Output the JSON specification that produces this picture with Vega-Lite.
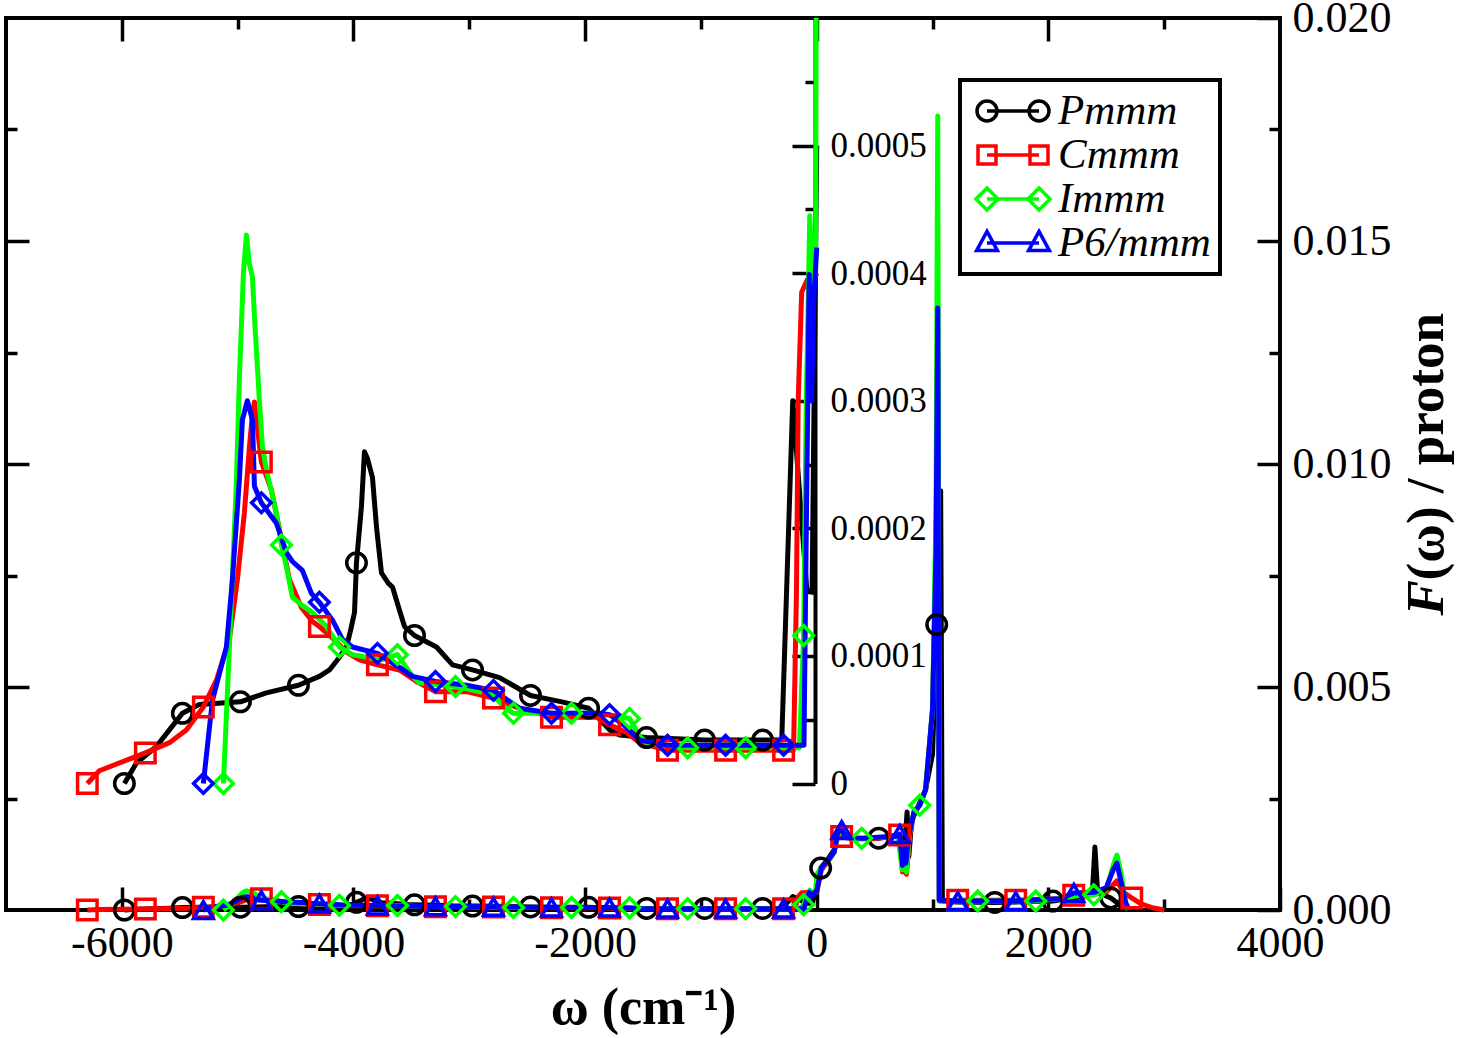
{
  "$schema": "https://vega.github.io/schema/vega-lite/v6.json",
  "width": 1274,
  "height": 892,
  "autosize": {"type": "none"},
  "padding": {"left": 6, "top": 18, "right": 177, "bottom": 128},
  "background": "white",
  "config": {
    "view": {"stroke": "black", "strokeWidth": 4},
    "axis": {
      "labelFont": "Liberation Serif",
      "titleFont": "Liberation Serif",
      "labelColor": "black",
      "titleColor": "black",
      "tickColor": "black",
      "tickWidth": 3.5,
      "domain": false,
      "grid": false,
      "labelFlush": false,
      "labelOverlap": false,
      "labelBound": false
    }
  },
  "datasets": {
    "curves": [
      {"s":"Pmmm","w":-5978,"F":0},{"s":"Pmmm","w":-5874,"F":0.000016},{"s":"Pmmm","w":-5702,"F":0.000029},{"s":"Pmmm","w":-5589,"F":0.000042},{"s":"Pmmm","w":-5477,"F":0.000055},{"s":"Pmmm","w":-5330,"F":0.000062},{"s":"Pmmm","w":-4976,"F":0.000064},{"s":"Pmmm","w":-4752,"F":0.000071},{"s":"Pmmm","w":-4475,"F":0.000077},{"s":"Pmmm","w":-4294,"F":0.000084},{"s":"Pmmm","w":-4207,"F":0.000089},{"s":"Pmmm","w":-4121,"F":0.000099},{"s":"Pmmm","w":-4060,"F":0.000107},{"s":"Pmmm","w":-4025,"F":0.00012},{"s":"Pmmm","w":-3991,"F":0.000134},{"s":"Pmmm","w":-3974,"F":0.000173},{"s":"Pmmm","w":-3931,"F":0.000217},{"s":"Pmmm","w":-3905,"F":0.00026},{"s":"Pmmm","w":-3880,"F":0.000255},{"s":"Pmmm","w":-3836,"F":0.00024},{"s":"Pmmm","w":-3800,"F":0.0002},{"s":"Pmmm","w":-3758,"F":0.000165},{"s":"Pmmm","w":-3700,"F":0.000157},{"s":"Pmmm","w":-3663,"F":0.000154},{"s":"Pmmm","w":-3600,"F":0.000135},{"s":"Pmmm","w":-3559,"F":0.000123},{"s":"Pmmm","w":-3473,"F":0.000116},{"s":"Pmmm","w":-3283,"F":0.000107},{"s":"Pmmm","w":-3144,"F":0.000093},{"s":"Pmmm","w":-2972,"F":0.000089},{"s":"Pmmm","w":-2739,"F":0.000083},{"s":"Pmmm","w":-2471,"F":0.000069},{"s":"Pmmm","w":-2200,"F":0.000064},{"s":"Pmmm","w":-1970,"F":0.000059},{"s":"Pmmm","w":-1870,"F":0.00005},{"s":"Pmmm","w":-1788,"F":0.000042},{"s":"Pmmm","w":-1702,"F":0.000038},{"s":"Pmmm","w":-1469,"F":0.000036},{"s":"Pmmm","w":-968,"F":0.000034},{"s":"Pmmm","w":-467,"F":0.000034},{"s":"Pmmm","w":-302,"F":0.000034},{"s":"Pmmm","w":-207,"F":0.0003},{"s":"Pmmm","w":-150,"F":0.00023},{"s":"Pmmm","w":-86,"F":0.000152},{"s":"Pmmm","w":-40,"F":0.00015},{"s":"Pmmm","w":0,"F":0.0005},{"s":"Pmmm","w":34,"F":0.00094},{"s":"Pmmm","w":100,"F":0.00115},{"s":"Pmmm","w":150,"F":0.00135},{"s":"Pmmm","w":185,"F":0.00175},{"s":"Pmmm","w":230,"F":0.00172},{"s":"Pmmm","w":300,"F":0.0016},{"s":"Pmmm","w":535,"F":0.00161},{"s":"Pmmm","w":720,"F":0.00168},{"s":"Pmmm","w":745,"F":0.001},{"s":"Pmmm","w":765,"F":0.0016},{"s":"Pmmm","w":780,"F":0.0022},{"s":"Pmmm","w":795,"F":0.0012},{"s":"Pmmm","w":820,"F":0.002},{"s":"Pmmm","w":880,"F":0.00235},{"s":"Pmmm","w":940,"F":0.0027},{"s":"Pmmm","w":1000,"F":0.0035},{"s":"Pmmm","w":1036,"F":0.0064},{"s":"Pmmm","w":1070,"F":0.0094},{"s":"Pmmm","w":1085,"F":0.0002},{"s":"Pmmm","w":1200,"F":0.00018},{"s":"Pmmm","w":1537,"F":0.00017},{"s":"Pmmm","w":2038,"F":0.0002},{"s":"Pmmm","w":2300,"F":0.0003},{"s":"Pmmm","w":2380,"F":0.0004},{"s":"Pmmm","w":2402,"F":0.00141},{"s":"Pmmm","w":2425,"F":0.0004},{"s":"Pmmm","w":2539,"F":0.00027},{"s":"Pmmm","w":2600,"F":0.00015},{"s":"Pmmm","w":2650,"F":0},

      {"s":"Cmmm","w":-6298,"F":0},{"s":"Cmmm","w":-6194,"F":0.00001},{"s":"Cmmm","w":-5797,"F":0.000024},{"s":"Cmmm","w":-5589,"F":0.000032},{"s":"Cmmm","w":-5443,"F":0.000042},{"s":"Cmmm","w":-5296,"F":0.00006},{"s":"Cmmm","w":-5183,"F":0.000081},{"s":"Cmmm","w":-5071,"F":0.000113},{"s":"Cmmm","w":-5002,"F":0.00016},{"s":"Cmmm","w":-4942,"F":0.000212},{"s":"Cmmm","w":-4898,"F":0.000264},{"s":"Cmmm","w":-4872,"F":0.00029},{"s":"Cmmm","w":-4855,"F":0.000299},{"s":"Cmmm","w":-4795,"F":0.000252},{"s":"Cmmm","w":-4708,"F":0.00023},{"s":"Cmmm","w":-4639,"F":0.000199},{"s":"Cmmm","w":-4553,"F":0.00016},{"s":"Cmmm","w":-4449,"F":0.000138},{"s":"Cmmm","w":-4354,"F":0.000127},{"s":"Cmmm","w":-4294,"F":0.000123},{"s":"Cmmm","w":-4181,"F":0.000114},{"s":"Cmmm","w":-4060,"F":0.000103},{"s":"Cmmm","w":-3948,"F":0.000097},{"s":"Cmmm","w":-3793,"F":0.000093},{"s":"Cmmm","w":-3603,"F":0.000089},{"s":"Cmmm","w":-3456,"F":0.00008},{"s":"Cmmm","w":-3292,"F":0.000072},{"s":"Cmmm","w":-3024,"F":0.000072},{"s":"Cmmm","w":-2791,"F":0.000067},{"s":"Cmmm","w":-2600,"F":0.00006},{"s":"Cmmm","w":-2290,"F":0.000052},{"s":"Cmmm","w":-1900,"F":0.000052},{"s":"Cmmm","w":-1789,"F":0.000046},{"s":"Cmmm","w":-1641,"F":0.00004},{"s":"Cmmm","w":-1529,"F":0.000032},{"s":"Cmmm","w":-1288,"F":0.000026},{"s":"Cmmm","w":-787,"F":0.000026},{"s":"Cmmm","w":-286,"F":0.000026},{"s":"Cmmm","w":-200,"F":0.000026},{"s":"Cmmm","w":-175,"F":0.00015},{"s":"Cmmm","w":-160,"F":0.0003},{"s":"Cmmm","w":-130,"F":0.000385},{"s":"Cmmm","w":-80,"F":0.000395},{"s":"Cmmm","w":-40,"F":0.00039},{"s":"Cmmm","w":0,"F":0.0004},{"s":"Cmmm","w":40,"F":0.0009},{"s":"Cmmm","w":100,"F":0.0011},{"s":"Cmmm","w":150,"F":0.0013},{"s":"Cmmm","w":185,"F":0.0017},{"s":"Cmmm","w":215,"F":0.00165},{"s":"Cmmm","w":300,"F":0.0016},{"s":"Cmmm","w":500,"F":0.0016},{"s":"Cmmm","w":716,"F":0.00168},{"s":"Cmmm","w":740,"F":0.00085},{"s":"Cmmm","w":760,"F":0.0015},{"s":"Cmmm","w":775,"F":0.0008},{"s":"Cmmm","w":800,"F":0.0016},{"s":"Cmmm","w":840,"F":0.0022},{"s":"Cmmm","w":890,"F":0.00235},{"s":"Cmmm","w":940,"F":0.0027},{"s":"Cmmm","w":1000,"F":0.0045},{"s":"Cmmm","w":1030,"F":0.008},{"s":"Cmmm","w":1045,"F":0.013},{"s":"Cmmm","w":1058,"F":0.0002},{"s":"Cmmm","w":1217,"F":0.00022},{"s":"Cmmm","w":1718,"F":0.00022},{"s":"Cmmm","w":2100,"F":0.00025},{"s":"Cmmm","w":2219,"F":0.00033},{"s":"Cmmm","w":2400,"F":0.00035},{"s":"Cmmm","w":2500,"F":0.0004},{"s":"Cmmm","w":2590,"F":0.00065},{"s":"Cmmm","w":2650,"F":0.0004},{"s":"Cmmm","w":2720,"F":0.00027},{"s":"Cmmm","w":2800,"F":0.00014},{"s":"Cmmm","w":2900,"F":0.00005},{"s":"Cmmm","w":3000,"F":0},

      {"s":"Immm","w":-5123,"F":0},{"s":"Immm","w":-5071,"F":0.000107},{"s":"Immm","w":-5010,"F":0.000238},{"s":"Immm","w":-4985,"F":0.000317},{"s":"Immm","w":-4950,"F":0.0004},{"s":"Immm","w":-4924,"F":0.00043},{"s":"Immm","w":-4900,"F":0.000408},{"s":"Immm","w":-4872,"F":0.000397},{"s":"Immm","w":-4855,"F":0.000366},{"s":"Immm","w":-4812,"F":0.0003},{"s":"Immm","w":-4786,"F":0.000264},{"s":"Immm","w":-4752,"F":0.000246},{"s":"Immm","w":-4665,"F":0.000212},{"s":"Immm","w":-4622,"F":0.000187},{"s":"Immm","w":-4579,"F":0.00017},{"s":"Immm","w":-4527,"F":0.000146},{"s":"Immm","w":-4449,"F":0.00014},{"s":"Immm","w":-4354,"F":0.000134},{"s":"Immm","w":-4233,"F":0.000123},{"s":"Immm","w":-4121,"F":0.000107},{"s":"Immm","w":-4009,"F":0.000101},{"s":"Immm","w":-3888,"F":0.000099},{"s":"Immm","w":-3749,"F":0.000097},{"s":"Immm","w":-3620,"F":0.000101},{"s":"Immm","w":-3490,"F":0.000084},{"s":"Immm","w":-3430,"F":0.000079},{"s":"Immm","w":-3119,"F":0.000076},{"s":"Immm","w":-2800,"F":0.00007},{"s":"Immm","w":-2700,"F":0.00006},{"s":"Immm","w":-2618,"F":0.000055},{"s":"Immm","w":-2117,"F":0.000055},{"s":"Immm","w":-1900,"F":0.000055},{"s":"Immm","w":-1616,"F":0.000051},{"s":"Immm","w":-1529,"F":0.000037},{"s":"Immm","w":-1469,"F":0.000032},{"s":"Immm","w":-1115,"F":0.000028},{"s":"Immm","w":-614,"F":0.000028},{"s":"Immm","w":-150,"F":0.000028},{"s":"Immm","w":-113,"F":0.000116},{"s":"Immm","w":-90,"F":0.0003},{"s":"Immm","w":-60,"F":0.000445},{"s":"Immm","w":-35,"F":0.00039},{"s":"Immm","w":-10,"F":0.0004},{"s":"Immm","w":0,"F":0.0008},{"s":"Immm","w":40,"F":0.00095},{"s":"Immm","w":100,"F":0.0011},{"s":"Immm","w":150,"F":0.0013},{"s":"Immm","w":185,"F":0.00175},{"s":"Immm","w":220,"F":0.00172},{"s":"Immm","w":300,"F":0.0016},{"s":"Immm","w":388,"F":0.00161},{"s":"Immm","w":700,"F":0.00165},{"s":"Immm","w":740,"F":0.0009},{"s":"Immm","w":760,"F":0.0015},{"s":"Immm","w":775,"F":0.00085},{"s":"Immm","w":800,"F":0.0017},{"s":"Immm","w":840,"F":0.0022},{"s":"Immm","w":889,"F":0.00235},{"s":"Immm","w":940,"F":0.0027},{"s":"Immm","w":1000,"F":0.0045},{"s":"Immm","w":1030,"F":0.009},{"s":"Immm","w":1045,"F":0.0178},{"s":"Immm","w":1058,"F":0.0002},{"s":"Immm","w":1390,"F":0.0002},{"s":"Immm","w":1891,"F":0.0002},{"s":"Immm","w":2100,"F":0.00025},{"s":"Immm","w":2250,"F":0.00032},{"s":"Immm","w":2392,"F":0.00034},{"s":"Immm","w":2500,"F":0.00045},{"s":"Immm","w":2560,"F":0.001},{"s":"Immm","w":2592,"F":0.00123},{"s":"Immm","w":2630,"F":0.0008},{"s":"Immm","w":2660,"F":0.0002},{"s":"Immm","w":2690,"F":0},

      {"s":"P6/mmm","w":-5296,"F":0},{"s":"P6/mmm","w":-5218,"F":0.000065},{"s":"P6/mmm","w":-5097,"F":0.000107},{"s":"P6/mmm","w":-5045,"F":0.00016},{"s":"P6/mmm","w":-4985,"F":0.000238},{"s":"P6/mmm","w":-4959,"F":0.000285},{"s":"P6/mmm","w":-4916,"F":0.0003},{"s":"P6/mmm","w":-4872,"F":0.000285},{"s":"P6/mmm","w":-4855,"F":0.000233},{"s":"P6/mmm","w":-4795,"F":0.00022},{"s":"P6/mmm","w":-4665,"F":0.000204},{"s":"P6/mmm","w":-4579,"F":0.000181},{"s":"P6/mmm","w":-4527,"F":0.000174},{"s":"P6/mmm","w":-4441,"F":0.000167},{"s":"P6/mmm","w":-4363,"F":0.000149},{"s":"P6/mmm","w":-4294,"F":0.000142},{"s":"P6/mmm","w":-4181,"F":0.000128},{"s":"P6/mmm","w":-4095,"F":0.000113},{"s":"P6/mmm","w":-4009,"F":0.000107},{"s":"P6/mmm","w":-3793,"F":0.000102},{"s":"P6/mmm","w":-3603,"F":0.000091},{"s":"P6/mmm","w":-3490,"F":0.000084},{"s":"P6/mmm","w":-3292,"F":0.00008},{"s":"P6/mmm","w":-3024,"F":0.000077},{"s":"P6/mmm","w":-2791,"F":0.000073},{"s":"P6/mmm","w":-2566,"F":0.000059},{"s":"P6/mmm","w":-2290,"F":0.000055},{"s":"P6/mmm","w":-1875,"F":0.000055},{"s":"P6/mmm","w":-1789,"F":0.000054},{"s":"P6/mmm","w":-1641,"F":0.000044},{"s":"P6/mmm","w":-1529,"F":0.000034},{"s":"P6/mmm","w":-1288,"F":0.00003},{"s":"P6/mmm","w":-787,"F":0.00003},{"s":"P6/mmm","w":-286,"F":0.00003},{"s":"P6/mmm","w":-110,"F":0.00003},{"s":"P6/mmm","w":-90,"F":0.0002},{"s":"P6/mmm","w":-65,"F":0.000399},{"s":"P6/mmm","w":-45,"F":0.0003},{"s":"P6/mmm","w":-25,"F":0.00038},{"s":"P6/mmm","w":0,"F":0.00042},{"s":"P6/mmm","w":40,"F":0.00095},{"s":"P6/mmm","w":100,"F":0.00112},{"s":"P6/mmm","w":150,"F":0.0013},{"s":"P6/mmm","w":185,"F":0.00178},{"s":"P6/mmm","w":216,"F":0.00179},{"s":"P6/mmm","w":250,"F":0.00162},{"s":"P6/mmm","w":400,"F":0.00161},{"s":"P6/mmm","w":700,"F":0.00166},{"s":"P6/mmm","w":717,"F":0.0017},{"s":"P6/mmm","w":740,"F":0.001},{"s":"P6/mmm","w":755,"F":0.0015},{"s":"P6/mmm","w":770,"F":0.00105},{"s":"P6/mmm","w":790,"F":0.0016},{"s":"P6/mmm","w":840,"F":0.0022},{"s":"P6/mmm","w":890,"F":0.00235},{"s":"P6/mmm","w":940,"F":0.0027},{"s":"P6/mmm","w":1000,"F":0.0045},{"s":"P6/mmm","w":1030,"F":0.008},{"s":"P6/mmm","w":1045,"F":0.0135},{"s":"P6/mmm","w":1058,"F":0.00022},{"s":"P6/mmm","w":1218,"F":0.0002},{"s":"P6/mmm","w":1719,"F":0.0002},{"s":"P6/mmm","w":2100,"F":0.00025},{"s":"P6/mmm","w":2220,"F":0.00038},{"s":"P6/mmm","w":2400,"F":0.0004},{"s":"P6/mmm","w":2500,"F":0.0005},{"s":"P6/mmm","w":2560,"F":0.0009},{"s":"P6/mmm","w":2592,"F":0.00105},{"s":"P6/mmm","w":2630,"F":0.0006},{"s":"P6/mmm","w":2670,"F":0.00015},{"s":"P6/mmm","w":2700,"F":0}
    ],
    "symbols": [
      {"s":"Pmmm","w":-5978,"F":0},{"s":"Pmmm","w":-5477,"F":0.000055},{"s":"Pmmm","w":-4976,"F":0.000064},{"s":"Pmmm","w":-4475,"F":0.000077},{"s":"Pmmm","w":-3974,"F":0.000173},{"s":"Pmmm","w":-3473,"F":0.000116},{"s":"Pmmm","w":-2972,"F":0.000089},{"s":"Pmmm","w":-2471,"F":0.000069},{"s":"Pmmm","w":-1970,"F":0.000059},{"s":"Pmmm","w":-1469,"F":0.000036},{"s":"Pmmm","w":-968,"F":0.000034},{"s":"Pmmm","w":-467,"F":0.000034},{"s":"Pmmm","w":34,"F":0.00094},{"s":"Pmmm","w":535,"F":0.00161},{"s":"Pmmm","w":1036,"F":0.0064},{"s":"Pmmm","w":1537,"F":0.00017},{"s":"Pmmm","w":2038,"F":0.0002},{"s":"Pmmm","w":2539,"F":0.00027},
      {"s":"Cmmm","w":-6298,"F":0},{"s":"Cmmm","w":-5797,"F":0.000024},{"s":"Cmmm","w":-5296,"F":0.00006},{"s":"Cmmm","w":-4795,"F":0.000252},{"s":"Cmmm","w":-4294,"F":0.000123},{"s":"Cmmm","w":-3793,"F":0.000093},{"s":"Cmmm","w":-3292,"F":0.000072},{"s":"Cmmm","w":-2791,"F":0.000067},{"s":"Cmmm","w":-2290,"F":0.000052},{"s":"Cmmm","w":-1789,"F":0.000046},{"s":"Cmmm","w":-1288,"F":0.000026},{"s":"Cmmm","w":-787,"F":0.000026},{"s":"Cmmm","w":-286,"F":0.000026},{"s":"Cmmm","w":215,"F":0.00165},{"s":"Cmmm","w":716,"F":0.00168},{"s":"Cmmm","w":1217,"F":0.00022},{"s":"Cmmm","w":1718,"F":0.00022},{"s":"Cmmm","w":2219,"F":0.00033},{"s":"Cmmm","w":2720,"F":0.00027},
      {"s":"Immm","w":-5123,"F":0},{"s":"Immm","w":-4622,"F":0.000187},{"s":"Immm","w":-4121,"F":0.000107},{"s":"Immm","w":-3620,"F":0.000101},{"s":"Immm","w":-3119,"F":0.000076},{"s":"Immm","w":-2618,"F":0.000055},{"s":"Immm","w":-2117,"F":0.000055},{"s":"Immm","w":-1616,"F":0.000051},{"s":"Immm","w":-1115,"F":0.000028},{"s":"Immm","w":-614,"F":0.000028},{"s":"Immm","w":-113,"F":0.000116},{"s":"Immm","w":388,"F":0.00161},{"s":"Immm","w":889,"F":0.00235},{"s":"Immm","w":1390,"F":0.0002},{"s":"Immm","w":1891,"F":0.0002},{"s":"Immm","w":2392,"F":0.00034},
      {"s":"P6/mmm","w":-5296,"F":0},{"s":"P6/mmm","w":-4795,"F":0.00022},{"s":"P6/mmm","w":-4294,"F":0.000142},{"s":"P6/mmm","w":-3793,"F":0.000102},{"s":"P6/mmm","w":-3292,"F":0.00008},{"s":"P6/mmm","w":-2791,"F":0.000073},{"s":"P6/mmm","w":-2290,"F":0.000055},{"s":"P6/mmm","w":-1789,"F":0.000054},{"s":"P6/mmm","w":-1288,"F":0.00003},{"s":"P6/mmm","w":-787,"F":0.00003},{"s":"P6/mmm","w":-286,"F":0.00003},{"s":"P6/mmm","w":216,"F":0.00179},{"s":"P6/mmm","w":717,"F":0.0017},{"s":"P6/mmm","w":1218,"F":0.0002},{"s":"P6/mmm","w":1719,"F":0.0002},{"s":"P6/mmm","w":2220,"F":0.00038}
    ]
  },
  "layer": [
    {
      "data": {"name": "curves"},
      "mark": {"type": "line", "strokeWidth": 5, "strokeJoin": "round"},
      "encoding": {
        "x": {
          "field": "w", "type": "quantitative",
          "scale": {"domain": [-7000, 4000], "nice": false, "zero": false},
          "axis": {
            "orient": "bottom",
            "values": [-6000, -5000, -4000, -3000, -2000, -1000, 0, 1000, 2000, 3000, 4000],
            "tickSize": {"condition": {"test": "datum.value % 2000 === 0", "value": -23}, "value": -11},
            "labelExpr": "datum.value % 2000 === 0 ? (datum.value < 0 ? '-' + abs(datum.value) : '' + datum.value) : ''",
            "labelFontSize": 44,
            "labelPadding": 34,
            "title": "ω (cm⁻¹)",
            "titleFontSize": 52,
            "titleFontWeight": "bold",
            "titleBaseline": "alphabetic",
            "titleY": 113
          }
        },
        "y": {
          "field": "F", "type": "quantitative",
          "scale": {"domain": [0, 0.02], "nice": false, "zero": false},
          "axis": {
            "orient": "right",
            "values": [0, 0.0025, 0.005, 0.0075, 0.01, 0.0125, 0.015, 0.0175, 0.02],
            "tickSize": {"condition": {"test": "round(datum.value * 10000) % 50 === 0", "value": -23}, "value": -11},
            "labelExpr": "round(datum.value * 10000) % 50 === 0 ? format(datum.value, '.3f') : ''",
            "labelFontSize": 44,
            "labelPadding": 35,
            "labelAlign": "left",
            "title": "(ω) / proton",
            "titleFontSize": 53,
            "titleFontWeight": "bold",
            "titleAngle": 270,
            "titleAlign": "left",
            "titleBaseline": "alphabetic",
            "titleX": 162,
            "titleY": 562
          }
        },
        "color": {
          "field": "s", "type": "nominal",
          "scale": {"domain": ["Pmmm", "Cmmm", "Immm", "P6/mmm"], "range": ["#000000", "#ff0000", "#00ff00", "#0000ff"]},
          "legend": {
            "orient": "none",
            "legendX": 954,
            "legendY": 62,
            "title": null,
            "symbolSize": 1600,
            "symbolStrokeWidth": 3.5,
            "symbolOffset": 22,
            "labelFont": "Liberation Serif",
            "labelFontSize": 43,
            "labelFontStyle": "italic",
            "labelColor": "black",
            "labelOffset": 23,
            "rowPadding": 0,
            "padding": 9,
            "strokeColor": "black",
            "fillColor": "white",
            "encode": {
              "legend": {"update": {"strokeWidth": {"value": 4}}},
              "symbols": {
                "update": {
                  "shape": {"signal": "datum.value === 'Pmmm' ? 'M-1.3,0L1.3,0M-1.8,0A0.5,0.5,0,1,1,-0.8,0A0.5,0.5,0,1,1,-1.8,0ZM0.8,0A0.5,0.5,0,1,1,1.8,0A0.5,0.5,0,1,1,0.8,0Z' : datum.value === 'Cmmm' ? 'M-1.3,0L1.3,0M-1.75,-0.45L-0.85,-0.45L-0.85,0.45L-1.75,0.45ZM0.85,-0.45L1.75,-0.45L1.75,0.45L0.85,0.45Z' : datum.value === 'Immm' ? 'M-1.3,0L1.3,0M-1.3,-0.55L-0.75,0L-1.3,0.55L-1.85,0ZM1.3,-0.55L1.85,0L1.3,0.55L0.75,0Z' : 'M-1.3,0L1.3,0M-1.3,-0.58L-0.78,0.38L-1.82,0.38ZM1.3,-0.58L1.82,0.38L0.78,0.38Z'"},
                  "fill": {"value": "transparent"},
                  "strokeWidth": {"value": 3.5}
                }
              }
            }
          }
        }
      }
    },
    {
      "data": {"name": "symbols"},
      "mark": {"type": "point", "filled": false, "size": 380, "strokeWidth": 3.5, "opacity": 1},
      "encoding": {
        "x": {
          "field": "w", "type": "quantitative",
          "scale": {"domain": [-7000, 4000], "nice": false, "zero": false},
          "axis": {
            "orient": "top",
            "values": [-6000, -5000, -4000, -3000, -2000, -1000, 0, 1000, 2000, 3000],
            "tickSize": {"condition": {"test": "datum.value % 2000 === 0", "value": -23}, "value": -11},
            "labels": false,
            "title": null
          }
        },
        "y": {
          "field": "F", "type": "quantitative",
          "scale": {"domain": [0, 0.02], "nice": false, "zero": false},
          "axis": {
            "orient": "left",
            "values": [0.0025, 0.005, 0.0075, 0.01, 0.0125, 0.015, 0.0175],
            "tickSize": {"condition": {"test": "round(datum.value * 10000) % 50 === 0", "value": -23}, "value": -11},
            "labels": false,
            "title": null
          }
        },
        "color": {
          "field": "s", "type": "nominal",
          "scale": {"domain": ["Pmmm", "Cmmm", "Immm", "P6/mmm"], "range": ["#000000", "#ff0000", "#00ff00", "#0000ff"]},
          "legend": null
        },
        "shape": {
          "field": "s", "type": "nominal",
          "scale": {"domain": ["Pmmm", "Cmmm", "Immm", "P6/mmm"], "range": ["circle", "square", "diamond", "triangle-up"]},
          "legend": null
        }
      }
    },
    {
      "data": {"name": "curves"},
      "transform": [{"filter": "datum.w <= 0"}],
      "mark": {"type": "line", "strokeWidth": 5, "strokeJoin": "round", "clip": true},
      "encoding": {
        "x": {
          "field": "w", "type": "quantitative",
          "scale": {"domain": [-7000, 4000], "nice": false, "zero": false},
          "axis": null
        },
        "y": {
          "field": "F", "type": "quantitative",
          "scale": {"domain": [0, 0.0006], "range": [765.5, 0], "nice": false, "zero": false},
          "axis": {
            "orient": "right",
            "offset": -465,
            "domain": true,
            "domainColor": "black",
            "domainWidth": 4,
            "values": [0, 0.00005, 0.0001, 0.00015, 0.0002, 0.00025, 0.0003, 0.00035, 0.0004, 0.00045, 0.0005, 0.00055],
            "tickSize": {"condition": {"test": "round(datum.value * 100000) % 10 === 0", "value": -23}, "value": -10},
            "labelExpr": "round(datum.value * 100000) % 10 === 0 ? (datum.value === 0 ? '0' : format(datum.value, '.4f')) : ''",
            "labelFontSize": 35,
            "labelPadding": 38,
            "labelAlign": "left",
            "title": null
          }
        },
        "color": {
          "field": "s", "type": "nominal",
          "scale": {"domain": ["Pmmm", "Cmmm", "Immm", "P6/mmm"], "range": ["#000000", "#ff0000", "#00ff00", "#0000ff"]},
          "legend": null
        }
      }
    },
    {
      "data": {"name": "symbols"},
      "transform": [{"filter": "datum.w <= 0"}],
      "mark": {"type": "point", "filled": false, "size": 380, "strokeWidth": 3.5, "opacity": 1},
      "encoding": {
        "x": {
          "field": "w", "type": "quantitative",
          "scale": {"domain": [-7000, 4000], "nice": false, "zero": false},
          "axis": null
        },
        "y": {
          "field": "F", "type": "quantitative",
          "scale": {"domain": [0, 0.0006], "range": [765.5, 0], "nice": false, "zero": false},
          "axis": null
        },
        "color": {
          "field": "s", "type": "nominal",
          "scale": {"domain": ["Pmmm", "Cmmm", "Immm", "P6/mmm"], "range": ["#000000", "#ff0000", "#00ff00", "#0000ff"]},
          "legend": null
        },
        "shape": {
          "field": "s", "type": "nominal",
          "scale": {"domain": ["Pmmm", "Cmmm", "Immm", "P6/mmm"], "range": ["circle", "square", "diamond", "diamond"]},
          "legend": null
        }
      }
    },
    {
      "mark": {"type": "rule", "strokeWidth": 4, "color": "black"},
      "encoding": {
        "x": {
          "datum": -7000, "type": "quantitative",
          "scale": {"domain": [-7000, 4000], "nice": false, "zero": false},
          "axis": null
        },
        "x2": {"datum": 0},
        "y": {
          "datum": 0, "type": "quantitative",
          "scale": {"domain": [0, 0.0006], "range": [765.5, 0], "nice": false, "zero": false},
          "axis": {
            "orient": "right",
            "ticks": false,
            "labels": false,
            "domain": false,
            "title": "F",
            "titleFontSize": 53,
            "titleFontWeight": "bold",
            "titleFontStyle": "italic",
            "titleAngle": 270,
            "titleAlign": "left",
            "titleBaseline": "alphabetic",
            "titleX": 162,
            "titleY": 597
          }
        }
      }
    }
  ],
  "resolve": {
    "scale": {"y": "independent", "color": "independent", "shape": "independent"},
    "axis": {"x": "independent", "y": "independent"}
  }
}
